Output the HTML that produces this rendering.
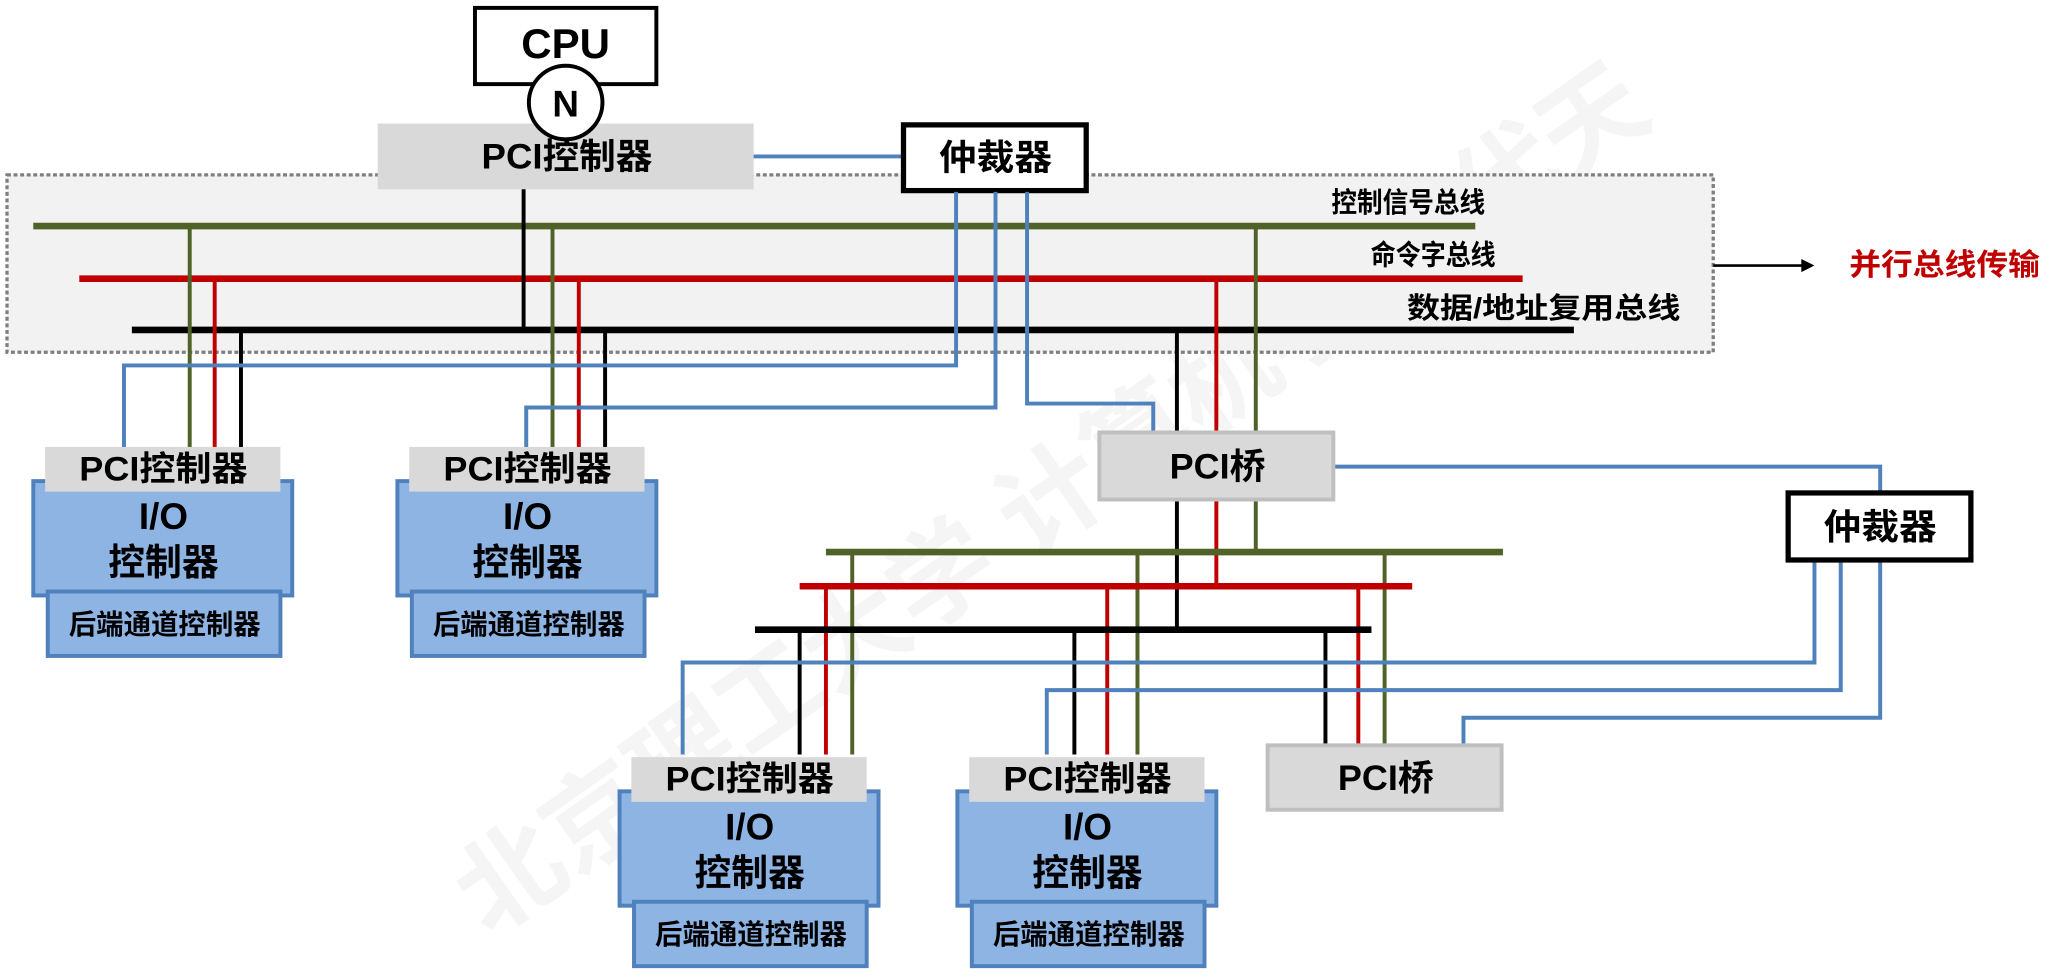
<!DOCTYPE html>
<html><head><meta charset="utf-8"><style>
html,body{margin:0;padding:0;background:#fff;}
svg{display:block;}
text{font-family:"Liberation Sans","Noto Sans CJK SC",sans-serif;font-weight:bold;text-anchor:middle;dominant-baseline:central;}
</style></head><body>
<svg width="2062" height="978" viewBox="0 0 1568 744" xmlns="http://www.w3.org/2000/svg">
<rect x="0" y="0" width="1568" height="744" fill="#fff"/>
<!-- watermark -->
<text x="800" y="380" transform="rotate(-35 800 380)" font-size="80" fill="#f5f5f5" font-weight="normal">北京理工大学 计算机学院 代天</text>
<!-- dashed region -->
<rect x="5" y="133" width="1298" height="135" fill="#f2f2f2" stroke="#7f7f7f" stroke-width="2.5" stroke-dasharray="3,2"/>
<!-- top buses -->
<line x1="25" y1="172" x2="1122" y2="172" stroke="#4f6228" stroke-width="5"/>
<line x1="60" y1="212" x2="1158" y2="212" stroke="#c00000" stroke-width="5"/>
<line x1="100" y1="251" x2="1197" y2="251" stroke="#000" stroke-width="5"/>
<text x="1071" y="154" font-size="21" textLength="117" lengthAdjust="spacingAndGlyphs">控制信号总线</text>
<text x="1090" y="194" font-size="21" textLength="95" lengthAdjust="spacingAndGlyphs">命令字总线</text>
<text x="1174" y="235" font-size="22" textLength="208" lengthAdjust="spacingAndGlyphs">数据/地址复用总线</text>
<line x1="1303" y1="202" x2="1372" y2="202" stroke="#000" stroke-width="2"/>
<polygon points="1370,197 1380,202 1370,207" fill="#000"/>
<text x="1479" y="202" font-size="23" fill="#c00000" textLength="145" lengthAdjust="spacingAndGlyphs">并行总线传输</text>
<!-- CPU -->
<rect x="361" y="6" width="138" height="58" fill="#fff" stroke="#000" stroke-width="3"/>
<text x="430" y="33" font-size="32">CPU</text>
<!-- PCI controller top -->
<rect x="287" y="94" width="286" height="50" fill="#d9d9d9"/>
<text x="431" y="119" font-size="27" textLength="130" lengthAdjust="spacingAndGlyphs">PCI控制器</text>
<ellipse cx="430" cy="78" rx="28" ry="28" fill="#fff" stroke="#000" stroke-width="3"/>
<text x="430" y="79" font-size="28">N</text>
<line x1="398" y1="144" x2="398" y2="251" stroke="#000" stroke-width="3"/>
<line x1="573" y1="119" x2="686" y2="119" stroke="#4f81bd" stroke-width="3"/>
<!-- arbiter 1 -->
<rect x="687" y="95" width="139" height="50" fill="#fff" stroke="#000" stroke-width="4"/>
<text x="757" y="120" font-size="27" textLength="86" lengthAdjust="spacingAndGlyphs">仲裁器</text>
<g fill="none" stroke-width="3">
<line x1="144" y1="172" x2="144" y2="342" stroke="#4f6228"/>
<line x1="163" y1="212" x2="163" y2="342" stroke="#c00000"/>
<line x1="183" y1="251" x2="183" y2="342" stroke="#000"/>
<line x1="420" y1="172" x2="420" y2="342" stroke="#4f6228"/>
<line x1="440" y1="212" x2="440" y2="342" stroke="#c00000"/>
<line x1="460" y1="251" x2="460" y2="342" stroke="#000"/>
<polyline points="727,146 727,278 94,278 94,342" stroke="#4f81bd"/>
<polyline points="757,146 757,310 400,310 400,342" stroke="#4f81bd"/>
<polyline points="781,146 781,307 877,307 877,330" stroke="#4f81bd"/>
<line x1="895" y1="251" x2="895" y2="479" stroke="#000"/>
<line x1="925" y1="212" x2="925" y2="446" stroke="#c00000"/>
<line x1="955" y1="172" x2="955" y2="420" stroke="#4f6228"/>
<polyline points="1015,355 1430,355 1430,375" stroke="#4f81bd"/>
<line x1="608" y1="479" x2="608" y2="574" stroke="#000"/>
<line x1="628" y1="446" x2="628" y2="574" stroke="#c00000"/>
<line x1="648" y1="420" x2="648" y2="574" stroke="#4f6228"/>
<line x1="817" y1="479" x2="817" y2="574" stroke="#000"/>
<line x1="842" y1="446" x2="842" y2="574" stroke="#c00000"/>
<line x1="865" y1="420" x2="865" y2="574" stroke="#4f6228"/>
<line x1="1008" y1="479" x2="1008" y2="567" stroke="#000"/>
<line x1="1033" y1="446" x2="1033" y2="567" stroke="#c00000"/>
<line x1="1053" y1="420" x2="1053" y2="567" stroke="#4f6228"/>
<polyline points="1380,426 1380,504 519,504 519,574" stroke="#4f81bd"/>
<polyline points="1400,426 1400,525 796,525 796,574" stroke="#4f81bd"/>
<polyline points="1430,426 1430,546 1113,546 1113,567" stroke="#4f81bd"/>
</g>
<line x1="628" y1="420" x2="1143" y2="420" stroke="#4f6228" stroke-width="5"/>
<line x1="608" y1="446" x2="1074" y2="446" stroke="#c00000" stroke-width="5"/>
<line x1="574" y1="479" x2="1043" y2="479" stroke="#000" stroke-width="5"/>
<!-- PCI bridges -->
<rect x="836" y="329" width="178" height="51" fill="#d9d9d9" stroke="#bfbfbf" stroke-width="3"/>
<text x="926" y="355" font-size="27" textLength="73" lengthAdjust="spacingAndGlyphs">PCI桥</text>
<rect x="964" y="567" width="178" height="49" fill="#d9d9d9" stroke="#bfbfbf" stroke-width="3"/>
<text x="1054" y="592" font-size="27" textLength="73" lengthAdjust="spacingAndGlyphs">PCI桥</text>
<!-- arbiter 2 -->
<rect x="1360" y="375" width="139" height="51" fill="#fff" stroke="#000" stroke-width="4"/>
<text x="1430" y="401" font-size="27" textLength="86" lengthAdjust="spacingAndGlyphs">仲裁器</text>
<!-- controllers -->
<g id="ctl">
<rect x="25" y="366" width="197" height="87" fill="#8eb4e3" stroke="#4f81bd" stroke-width="3"/>
<rect x="34" y="340" width="179" height="34" fill="#d9d9d9"/>
<text x="124" y="357" font-size="26" textLength="128" lengthAdjust="spacingAndGlyphs">PCI控制器</text>
<text x="124" y="393" font-size="28">I/O</text>
<text x="124" y="428" font-size="28" textLength="84" lengthAdjust="spacingAndGlyphs">控制器</text>
<rect x="36" y="450" width="177" height="49" fill="#8eb4e3" stroke="#4f81bd" stroke-width="3"/>
<text x="125" y="475" font-size="21" textLength="146" lengthAdjust="spacingAndGlyphs">后端通道控制器</text>
</g>
<use href="#ctl" transform="translate(277,0)"/>
<use href="#ctl" transform="translate(446,236)"/>
<use href="#ctl" transform="translate(703,236)"/>
</svg>
</body></html>
